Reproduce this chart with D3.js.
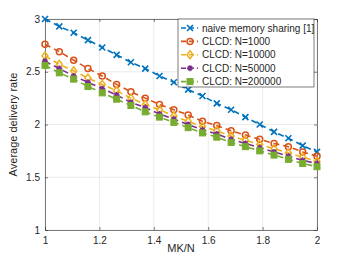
<!DOCTYPE html>
<html>
<head>
<meta charset="utf-8">
<script src="https://cdn.jsdelivr.net/npm/d3@7"></script>
<style>
  body { margin: 0; background: #fff; }
  text { font-family: "Liberation Sans", Arial, sans-serif; fill: #262626; }
</style>
</head>
<body>
<svg id="chart" width="350" height="263"></svg>
<script>
"use strict";

// MK/N sample points (20 points between 1 and 2)
var xValues = d3.range(20).map(function(i) { return 1 + i / 19; });

var naiveRate = [3.00, 2.93, 2.87, 2.80, 2.73, 2.66, 2.59, 2.53, 2.46, 2.40,
                 2.33, 2.27, 2.20, 2.14, 2.07, 2.00, 1.93, 1.87, 1.80, 1.74];
var clcd1000  = [2.76, 2.69, 2.61, 2.53, 2.46, 2.38, 2.31, 2.25, 2.19, 2.14,
                 2.09, 2.03, 1.99, 1.94, 1.90, 1.86, 1.82, 1.79, 1.74, 1.70];
var clcd10000 = [2.65, 2.57, 2.51, 2.44, 2.38, 2.32, 2.25, 2.19, 2.14, 2.08,
                 2.03, 1.98, 1.94, 1.89, 1.85, 1.81, 1.77, 1.73, 1.69, 1.65];
var clcd50000 = [2.60, 2.53, 2.46, 2.40, 2.34, 2.28, 2.21, 2.16, 2.10, 2.05,
                 2.00, 1.95, 1.91, 1.86, 1.82, 1.78, 1.74, 1.70, 1.66, 1.63];
var clcd200000 = [2.56, 2.49, 2.43, 2.36, 2.30, 2.24, 2.18, 2.12, 2.07, 2.02,
                  1.97, 1.92, 1.88, 1.83, 1.79, 1.75, 1.71, 1.67, 1.63, 1.60];

var seriesNames = ["naive memory sharing [1]", "CLCD: N=1000", "CLCD: N=10000",
                   "CLCD: N=50000", "CLCD: N=200000"];
var xTicks = [1, 1.2, 1.4, 1.6, 1.8, 2];
var yTicks = [1, 1.5, 2, 2.5, 3];

var series = [
	{ name: seriesNames[0], values: naiveRate,  color: "#0072BD", marker: "x" },
	{ name: seriesNames[1], values: clcd1000,   color: "#D95319", marker: "circle" },
	{ name: seriesNames[2], values: clcd10000,  color: "#EDB120", marker: "diamond" },
	{ name: seriesNames[3], values: clcd50000,  color: "#7E2F8E", marker: "star" },
	{ name: seriesNames[4], values: clcd200000, color: "#77AC30", marker: "square" }
];

var margin = { left: 45, top: 19, right: 33, bottom: 33 };
var svg = d3.select("#chart");
var W = 350, H = 263;
var iw = W - margin.left - margin.right, ih = H - margin.top - margin.bottom;

var x = d3.scaleLinear().domain([1, 2]).range([0, iw]);
var y = d3.scaleLinear().domain([1, 3]).range([ih, 0]);

var g = svg.append("g").attr("transform", "translate(" + margin.left + "," + margin.top + ")");

// Grid lines
g.append("g").selectAll("line.gx").data(xTicks).join("line")
	.attr("x1", function(d) { return x(d); }).attr("x2", function(d) { return x(d); })
	.attr("y1", 0).attr("y2", ih).attr("stroke", "#e6e6e6").attr("stroke-width", 0.8);
g.append("g").selectAll("line.gy").data(yTicks).join("line")
	.attr("y1", function(d) { return y(d); }).attr("y2", function(d) { return y(d); })
	.attr("x1", 0).attr("x2", iw).attr("stroke", "#e6e6e6").attr("stroke-width", 0.8);

// Axes (ticks pointing inward)
var fmt = function(d) { return String(d); };
var xAxis = g.append("g").attr("transform", "translate(0," + ih + ")")
	.call(d3.axisBottom(x).tickValues(xTicks).tickFormat(fmt).tickSizeInner(-3).tickSizeOuter(0).tickPadding(7));
var yAxis = g.append("g")
	.call(d3.axisLeft(y).tickValues(yTicks).tickFormat(fmt).tickSizeInner(-3).tickSizeOuter(0).tickPadding(5));
var xTop = g.append("g")
	.call(d3.axisTop(x).tickValues(xTicks).tickFormat("").tickSizeInner(-3).tickSizeOuter(0));
var yRight = g.append("g").attr("transform", "translate(" + iw + ",0)")
	.call(d3.axisRight(y).tickValues(yTicks).tickFormat("").tickSizeInner(-3).tickSizeOuter(0));
[xAxis, yAxis, xTop, yRight].forEach(function(a) {
	a.selectAll("path, line").attr("stroke", "#262626").attr("stroke-width", 0.6);
	a.selectAll("text").style("font-size", "10px").attr("fill", "#262626");
});

// Axis labels
svg.append("text").attr("x", margin.left + iw / 2).attr("y", 252)
	.attr("text-anchor", "middle").style("font-size", "11px").text("MK/N");
svg.append("text").attr("transform", "translate(17," + (margin.top + ih / 2) + ") rotate(-90)")
	.attr("text-anchor", "middle").style("font-size", "11px").text("Average delivery rate");

// Marker drawing helper
function drawMarker(sel, type, color, size) {
	var s = size / 2;
	if (type === "x") {
		sel.append("path").attr("d", "M" + -s + "," + -s + "L" + s + "," + s + "M" + -s + "," + s + "L" + s + "," + -s)
			.attr("stroke", color).attr("stroke-width", 1.6).attr("fill", "none");
	} else if (type === "circle") {
		sel.append("circle").attr("r", s).attr("stroke", color).attr("stroke-width", 1.5).attr("fill", "none");
	} else if (type === "diamond") {
		sel.append("path").attr("d", "M0," + (-s - 1) + "L" + s + ",0L0," + (s + 1) + "L" + -s + ",0Z")
			.attr("stroke", color).attr("stroke-width", 1.5).attr("fill", "none");
	} else if (type === "star") {
		var d = "M" + -s + ",0L" + s + ",0M0," + -s + "L0," + s +
			"M" + -s * 0.7 + "," + -s * 0.7 + "L" + s * 0.7 + "," + s * 0.7 +
			"M" + -s * 0.7 + "," + s * 0.7 + "L" + s * 0.7 + "," + -s * 0.7;
		sel.append("path").attr("d", d).attr("stroke", color).attr("stroke-width", 1.5).attr("fill", "none");
	} else if (type === "square") {
		sel.append("rect").attr("x", -s).attr("y", -s).attr("width", size).attr("height", size)
			.attr("fill", color).attr("stroke", color).attr("stroke-width", 1);
	}
}

// Series lines and markers
var line = d3.line().x(function(d, i) { return x(xValues[i]); }).y(function(d) { return y(d); });
series.forEach(function(s) {
	g.append("path").datum(s.values).attr("d", line)
		.attr("fill", "none").attr("stroke", s.color).attr("stroke-width", 1.6)
		.attr("stroke-dasharray", "6,4");
	g.append("g").selectAll("g").data(s.values).join("g")
		.attr("transform", function(d, i) { return "translate(" + x(xValues[i]) + "," + y(d) + ")"; })
		.each(function() { drawMarker(d3.select(this), s.marker, s.color, 6); });
});

// Legend
var lg = svg.append("g").attr("transform", "translate(178,19)");
lg.append("rect").attr("width", 136).attr("height", 68)
	.attr("fill", "#fff").attr("stroke", "#262626").attr("stroke-width", 0.6);
series.forEach(function(s, i) {
	var row = lg.append("g").attr("transform", "translate(0," + (9 + i * 13.4) + ")");
	row.append("line").attr("x1", 3).attr("x2", 20).attr("y1", 0).attr("y2", 0)
		.attr("stroke", s.color).attr("stroke-width", 1.6).attr("stroke-dasharray", "5,3");
	var m = row.append("g").attr("transform", "translate(12,0)");
	drawMarker(m, s.marker, s.color, 6);
	row.append("text").attr("x", 24).attr("y", 0).attr("dy", "0.35em")
		.style("font-size", "10px").text(s.name);
});
</script>
</body>
</html>
